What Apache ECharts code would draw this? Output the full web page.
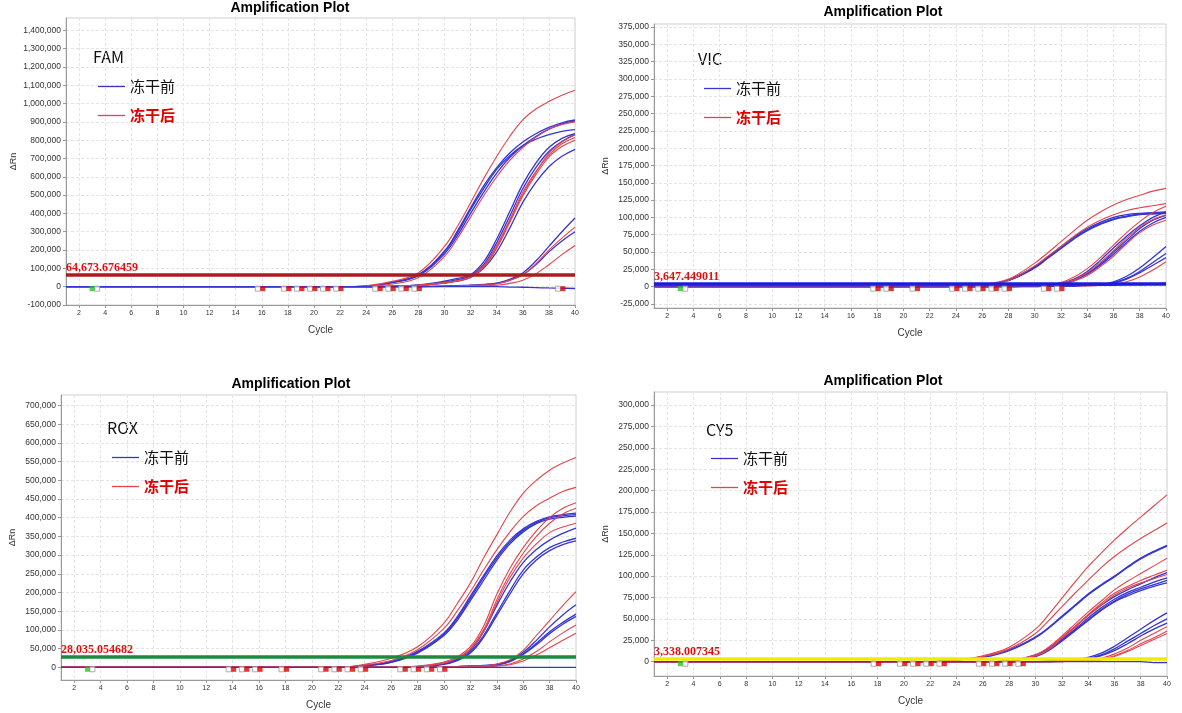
<!DOCTYPE html>
<html>
<head>
<meta charset="utf-8">
<title>Amplification Plot</title>
<script src="https://cdn.jsdelivr.net/npm/echarts@6/dist/echarts.min.js"></script>
<style>
  html, body { margin: 0; padding: 0; background: #fff; }
  #chart { width: 1182px; height: 713px; }
</style>
</head>
<body>
<div id="chart"></div>
<script>
const cycles = [1, 22, 24, 26, 28, 30, 31, 32, 33, 34, 35, 36, 37, 38, 39, 40];
const cycleTicks = [2, 4, 6, 8, 10, 12, 14, 16, 18, 20, 22, 24, 26, 28, 30, 32, 34, 36, 38, 40];

// dRn in thousands, one row per well
const famBefore = [
  [0, 0, 3, 25, 65, 190, 295, 420, 535, 640, 715, 770, 805, 830, 848, 858],
  [0, 0, 2, 22, 60, 180, 280, 400, 515, 620, 705, 770, 820, 860, 888, 905],
  [0, 0, 3, 25, 65, 195, 305, 430, 550, 650, 730, 790, 835, 870, 895, 910],
  [0, 0, 0, 3, 10, 30, 45, 65, 135, 260, 410, 560, 675, 760, 810, 835],
  [0, 0, 0, 2, 8, 25, 38, 58, 120, 240, 385, 535, 650, 738, 793, 830],
  [0, 0, 0, 2, 7, 20, 30, 50, 100, 190, 320, 460, 570, 655, 712, 750],
  [0, 0, 0, 0, 1, 3, 5, 8, 12, 20, 40, 75, 140, 220, 300, 375],
  [0, 0, 0, 0, 1, 3, 5, 7, 11, 18, 35, 65, 120, 190, 250, 300]
];
const famAfter = [
  [0, 0, 5, 29, 76, 220, 330, 458, 590, 711, 820, 911, 970, 1011, 1045, 1072],
  [0, 0, 2, 15, 50, 165, 265, 380, 495, 600, 690, 760, 815, 860, 885, 900],
  [0, 0, 0, 2, 8, 22, 34, 55, 112, 225, 365, 515, 628, 718, 780, 815],
  [0, 0, 0, 2, 7, 20, 31, 52, 105, 210, 350, 495, 612, 708, 765, 800],
  [0, 0, 0, 2, 7, 21, 33, 54, 110, 215, 360, 505, 625, 728, 790, 830],
  [0, 0, 0, 0, 1, 2, 4, 7, 10, 15, 35, 65, 125, 200, 265, 325],
  [0, 0, 0, 0, 0, 1, 2, 4, 6, 8, 18, 35, 70, 120, 175, 225]
];
const famNtc = [0, 0, 0, 0, 0, 0, 0, 0, 0, 0, -2, -3, -5, -7, -8, -10];
const famTicks = [-100000, 0, 100000, 200000, 300000, 400000, 500000, 600000, 700000,
  800000, 900000, 1000000, 1100000, 1200000, 1300000, 1400000];
const famThreshold = 64673.676459;
const famMarks = [16, 18, 19, 20, 21, 22, 25, 26, 27, 28, 39];

const vicBefore = [
  [0, 0, 1, 2, 10, 29, 43, 58, 72, 84, 93, 100, 104, 106, 107, 108],
  [0, 0, 1, 2, 9, 28, 42, 56, 70, 82, 91, 98, 102, 105, 106, 107],
  [0, 0, 1, 2, 9, 27, 41, 55, 69, 81, 90, 97, 101, 104, 105, 106],
  [0, 0, 0, 0, 1, 2, 3, 5, 11, 22, 38, 56, 73, 88, 100, 108],
  [0, 0, 0, 0, 1, 2, 3, 4, 10, 19, 33, 50, 67, 84, 96, 103],
  [0, 0, 0, 0, 1, 2, 3, 4, 9, 18, 31, 47, 64, 80, 92, 100],
  [0, 0, 0, 0, 0, 1, 1, 2, 2, 3, 3, 7, 15, 27, 42, 58],
  [0, 0, 0, 0, 0, 1, 1, 1, 2, 2, 3, 6, 12, 22, 35, 48],
  [0, 0, 0, 0, 0, 0, 1, 1, 1, 2, 3, 5, 11, 20, 31, 42]
];
const vicAfter = [
  [0, 0, 1, 3, 11, 34, 49, 65, 81, 96, 108, 118, 126, 132, 138, 142],
  [0, 0, 1, 2, 9, 30, 44, 58, 73, 86, 96, 104, 110, 114, 117, 120],
  [0, 0, 0, 0, 1, 2, 3, 6, 14, 26, 42, 60, 78, 94, 107, 116],
  [0, 0, 0, 0, 1, 2, 3, 5, 10, 20, 35, 52, 70, 86, 97, 104],
  [0, 0, 0, 0, 0, 1, 2, 3, 8, 16, 29, 44, 62, 78, 89, 96],
  [0, 0, 0, 0, 0, 0, 1, 1, 1, 1, 2, 3, 7, 14, 24, 36]
];
const vicNtc = [1, 1, 1, 1, 1, 1, 1, 1, 1, 2, 2, 2, 3, 3, 4, 5];
const vicTicks = [-25000, 0, 25000, 50000, 75000, 100000, 125000, 150000, 175000, 200000,
  225000, 250000, 275000, 300000, 325000, 350000, 375000];
const vicThreshold = 3647.449011;
const vicMarks = [18, 19, 21, 24, 25, 26, 27, 28, 31, 32];

const roxBefore = [
  [0, 0, 5, 16, 43, 92, 135, 190, 245, 298, 340, 370, 390, 402, 408, 412],
  [0, 0, 4, 14, 40, 88, 130, 184, 240, 292, 335, 366, 387, 400, 405, 408],
  [0, 0, 4, 13, 38, 85, 125, 178, 232, 286, 330, 362, 384, 396, 401, 404],
  [0, 0, 0, 0, 2, 10, 22, 45, 95, 165, 228, 280, 315, 340, 358, 372],
  [0, 0, 0, 0, 1, 9, 19, 40, 85, 145, 205, 260, 295, 320, 335, 345],
  [0, 0, 0, 0, 1, 8, 18, 38, 80, 138, 196, 250, 287, 312, 328, 338],
  [0, 0, 0, 0, 0, 1, 2, 3, 5, 8, 18, 40, 72, 108, 140, 167],
  [0, 0, 0, 0, 0, 1, 2, 3, 4, 7, 16, 36, 64, 95, 120, 142],
  [0, 0, 0, 0, 0, 1, 2, 3, 4, 6, 15, 34, 60, 90, 115, 136]
];
const roxAfter = [
  [0, 0, 8, 24, 55, 118, 170, 225, 292, 354, 415, 465, 500, 527, 546, 561],
  [0, 0, 6, 18, 47, 104, 150, 202, 260, 314, 362, 403, 432, 452, 470, 481],
  [0, 0, 0, 0, 3, 14, 28, 55, 110, 195, 265, 320, 365, 400, 425, 440],
  [0, 0, 0, 0, 2, 12, 25, 50, 100, 180, 250, 305, 350, 385, 410, 425],
  [0, 0, 0, 0, 2, 11, 24, 48, 95, 172, 240, 292, 330, 360, 375, 385],
  [0, 0, 0, 0, 0, 1, 2, 3, 4, 9, 20, 45, 85, 125, 165, 202],
  [0, 0, 0, 0, 0, 0, 1, 2, 3, 4, 9, 22, 42, 68, 92, 113],
  [0, 0, 0, 0, 0, 0, 1, 1, 2, 3, 7, 17, 33, 52, 72, 91]
];
const roxNtc = [0, 0, 0, 0, 0, 0, 0, 0, 0, 0, 0, 0, 0, 0, 0, 0];
const roxTicks = [0, 50000, 100000, 150000, 200000, 250000, 300000, 350000, 400000,
  450000, 500000, 550000, 600000, 650000, 700000];
const roxThreshold = 28035.054682;
const roxMarks = [14, 15, 16, 18, 21, 22, 23, 24, 27, 28, 29, 30];

const cy5Before = [
  [0, 0, 2, 6, 14, 29, 40, 53, 66, 79, 90, 100, 111, 121, 129, 136],
  [0, 0, 2, 5, 13, 28, 39, 52, 65, 78, 89, 99, 110, 120, 128, 135],
  [0, 0, 0, 0, 1, 8, 16, 28, 41, 54, 66, 76, 84, 91, 98, 104],
  [0, 0, 0, 0, 1, 7, 15, 26, 38, 51, 63, 73, 81, 87, 93, 98],
  [0, 0, 0, 0, 1, 7, 14, 25, 37, 49, 61, 71, 79, 85, 90, 95],
  [0, 0, 0, 0, 1, 6, 13, 24, 36, 48, 60, 70, 77, 83, 88, 92],
  [0, 0, 0, 0, 0, 0, 1, 1, 2, 5, 10, 18, 28, 38, 48, 57],
  [0, 0, 0, 0, 0, 0, 0, 1, 2, 4, 8, 15, 24, 33, 42, 50],
  [0, 0, 0, 0, 0, 0, 0, 1, 1, 3, 7, 13, 21, 30, 38, 45]
];
const cy5After = [
  [0, 0, 2, 7, 17, 38, 55, 74, 93, 111, 127, 142, 156, 169, 182, 195],
  [0, 0, 2, 6, 15, 33, 48, 64, 80, 95, 110, 123, 134, 144, 153, 162],
  [0, 0, 0, 0, 1, 8, 17, 30, 44, 58, 71, 84, 94, 103, 112, 121],
  [0, 0, 0, 0, 1, 7, 15, 28, 41, 55, 68, 80, 88, 95, 101, 107],
  [0, 0, 0, 0, 1, 7, 14, 27, 40, 54, 66, 78, 86, 92, 97, 102],
  [0, 0, 0, 0, 0, 0, 0, 1, 1, 2, 4, 9, 16, 25, 33, 41],
  [0, 0, 0, 0, 0, 0, 0, 0, 1, 1, 3, 7, 13, 21, 28, 36],
  [0, 0, 0, 0, 0, 0, 0, 0, 1, 1, 2, 6, 12, 19, 26, 33]
];
const cy5Ntc = [0, 0, 0, 0, 0, 0, 0, 0, 0, 0, 0, 0, 0, 0, -1, -1];
const cy5Ticks = [0, 25000, 50000, 75000, 100000, 125000, 150000, 175000, 200000,
  225000, 250000, 275000, 300000];
const cy5Threshold = 3338.007345;
const cy5Marks = [18, 20, 21, 22, 23, 26, 27, 28, 29];

const startMark = [3];

const BLUE = '#3535d2';
const RED = '#e2444c';
const LABEL_RED = '#e01010';

const panels = [
  { dye: 'FAM', before: famBefore, after: famAfter, ntc: famNtc, ticks: famTicks,
    threshold: famThreshold, marks: famMarks, thrColor: '#a81e1e',
    grid: { left: 66, top: 18, width: 509, height: 287 }, yMin: -100000, yMax: 1467000,
    title: [290, 8], label: [93, 57], legend: [93, 74] },
  { dye: 'VIC', before: vicBefore, after: vicAfter, ntc: vicNtc, ticks: vicTicks,
    threshold: vicThreshold, marks: vicMarks, thrColor: '#1c1ce0',
    grid: { left: 654, top: 24, width: 512, height: 284 }, yMin: -30800, yMax: 379400,
    title: [883, 12], label: [698, 59], legend: [699, 76] },
  { dye: 'ROX', before: roxBefore, after: roxAfter, ntc: roxNtc, ticks: roxTicks,
    threshold: roxThreshold, marks: roxMarks, thrColor: '#1b8a3e',
    grid: { left: 61, top: 395, width: 515, height: 285 }, yMin: -34000, yMax: 728000,
    title: [291, 384], label: [107, 428], legend: [107, 445] },
  { dye: 'CY5', before: cy5Before, after: cy5After, ntc: cy5Ntc, ticks: cy5Ticks,
    threshold: cy5Threshold, marks: cy5Marks, thrColor: '#f0ec00',
    grid: { left: 654, top: 392, width: 513, height: 284 }, yMin: -16700, yMax: 315200,
    title: [883, 381], label: [706, 430], legend: [706, 446] }
];

const toPoints = (row) => cycles.map((c, j) => [c, row[j] * 1000]);
const fmt = (v) => v.toLocaleString('en-US');

const grids = [], xAxes = [], yAxes = [], series = [], legends = [], graphics = [];

panels.forEach((p, i) => {
  grids.push(Object.assign({ show: true, borderColor: '#cfcfcf', borderWidth: 1, backgroundColor: '#fff' }, p.grid));

  xAxes.push({
    type: 'value', gridIndex: i, min: 1, max: 40,
    name: 'Cycle', nameLocation: 'middle', nameGap: 20,
    nameTextStyle: { fontSize: 10, color: '#333', fontFamily: 'Liberation Sans' },
    axisLine: { onZero: false, lineStyle: { color: '#999' } },
    axisTick: { length: 3, customValues: cycleTicks, lineStyle: { color: '#999' } },
    axisLabel: { customValues: cycleTicks, fontSize: 7, color: '#333', margin: 5, fontFamily: 'Liberation Sans' },
    splitLine: { show: true, lineStyle: { color: '#e4e4e4', type: [3, 2] } }
  });

  yAxes.push({
    type: 'value', gridIndex: i, min: p.yMin, max: p.yMax,
    name: 'ΔRn', nameLocation: 'middle', nameRotate: 90, nameGap: p.grid.left === 66 ? 48 : 44,
    nameTextStyle: { fontSize: 9, color: '#333', fontFamily: 'Liberation Sans' },
    axisLine: { show: true, onZero: false, lineStyle: { color: '#999' } },
    axisTick: { show: true, length: 3, customValues: p.ticks, lineStyle: { color: '#999' } },
    axisLabel: { customValues: p.ticks, formatter: fmt, fontSize: 8.5, color: '#333', margin: 5, fontFamily: 'Liberation Sans' },
    splitLine: { show: true, lineStyle: { color: '#e4e4e4', type: [3, 2] } }
  });

  p.before.forEach((row) => series.push({
    type: 'line', name: '冻干前', xAxisIndex: i, yAxisIndex: i, data: toPoints(row),
    smooth: 0.4, symbol: 'none', z: 3, lineStyle: { color: BLUE, width: 1.3 }, itemStyle: { color: BLUE }
  }));
  p.after.forEach((row) => series.push({
    type: 'line', name: '冻干后', xAxisIndex: i, yAxisIndex: i, data: toPoints(row),
    smooth: 0.4, symbol: 'none', z: 3, lineStyle: { color: RED, width: 1.1 }, itemStyle: { color: RED }
  }));
  series.push({
    type: 'line', name: 'NTC', xAxisIndex: i, yAxisIndex: i, data: toPoints(p.ntc),
    smooth: 0.4, symbol: 'none', z: 3, lineStyle: { color: BLUE, width: 1.3 }
  });

  // threshold line plus baseline start / end markers
  series.push({
    type: 'scatter', name: 'baseline', xAxisIndex: i, yAxisIndex: i, z: 6, silent: true,
    data: p.marks.map((c) => [c, 0]),
    symbol: 'rect', symbolSize: [5, 5], symbolOffset: [1, 2],
    itemStyle: { color: '#e00000' },
    markLine: {
      silent: true, symbol: 'none', z: 4,
      data: [{ yAxis: p.threshold }],
      lineStyle: { color: p.thrColor, width: 3.5, type: 'solid' },
      label: {
        show: true, position: 'insideStartTop', distance: [0, 1],
        formatter: () => p.threshold.toLocaleString('en-US', { minimumFractionDigits: 6, maximumFractionDigits: 6 }),
        color: LABEL_RED, fontFamily: 'Liberation Serif', fontWeight: 'bold', fontSize: 12
      }
    }
  });
  series.push({
    type: 'scatter', name: 'baselineBox', xAxisIndex: i, yAxisIndex: i, z: 5, silent: true,
    data: p.marks.map((c) => [c, 0]),
    symbol: 'rect', symbolSize: [5, 5], symbolOffset: [-4, 2],
    itemStyle: { color: '#fff', borderColor: '#999', borderWidth: 1 }
  });
  series.push({
    type: 'scatter', name: 'start', xAxisIndex: i, yAxisIndex: i, z: 6, silent: true,
    data: startMark.map((c) => [c, 0]),
    symbol: 'rect', symbolSize: [5, 5], symbolOffset: [0, 2],
    itemStyle: { color: '#22cc22' }
  });
  series.push({
    type: 'scatter', name: 'startBox', xAxisIndex: i, yAxisIndex: i, z: 5, silent: true,
    data: startMark.map((c) => [c, 0]),
    symbol: 'rect', symbolSize: [5, 5], symbolOffset: [5, 2],
    itemStyle: { color: '#fff', borderColor: '#999', borderWidth: 1 }
  });

  legends.push({
    left: p.legend[0], top: p.legend[1], orient: 'vertical', selectedMode: false,
    icon: 'path://M0,0 H27 V1.3 H0 Z',
    itemWidth: 27, itemHeight: 14, itemGap: 14,
    textStyle: { fontSize: 15, color: '#111', fontFamily: 'Noto Sans CJK SC' },
    data: [
      { name: '冻干前' },
      { name: '冻干后', textStyle: { color: '#e00000', fontWeight: 'bold' } }
    ]
  });

  graphics.push({
    type: 'text', x: p.title[0], y: p.title[1],
    style: { text: 'Amplification Plot', font: 'bold 14px "Liberation Sans", Arial', fill: '#000', align: 'center', verticalAlign: 'middle' }
  });
  graphics.push({
    type: 'text', x: p.label[0], y: p.label[1],
    style: { text: p.dye, font: '16px "Noto Sans CJK SC"', fill: '#111', align: 'left', verticalAlign: 'middle' }
  });
});

const chart = echarts.init(document.getElementById('chart'), null, { renderer: 'canvas' });
chart.setOption({
  animation: false,
  backgroundColor: '#fff',
  grid: grids,
  xAxis: xAxes,
  yAxis: yAxes,
  legend: legends,
  graphic: graphics,
  series: series
});
</script>
</body>
</html>
